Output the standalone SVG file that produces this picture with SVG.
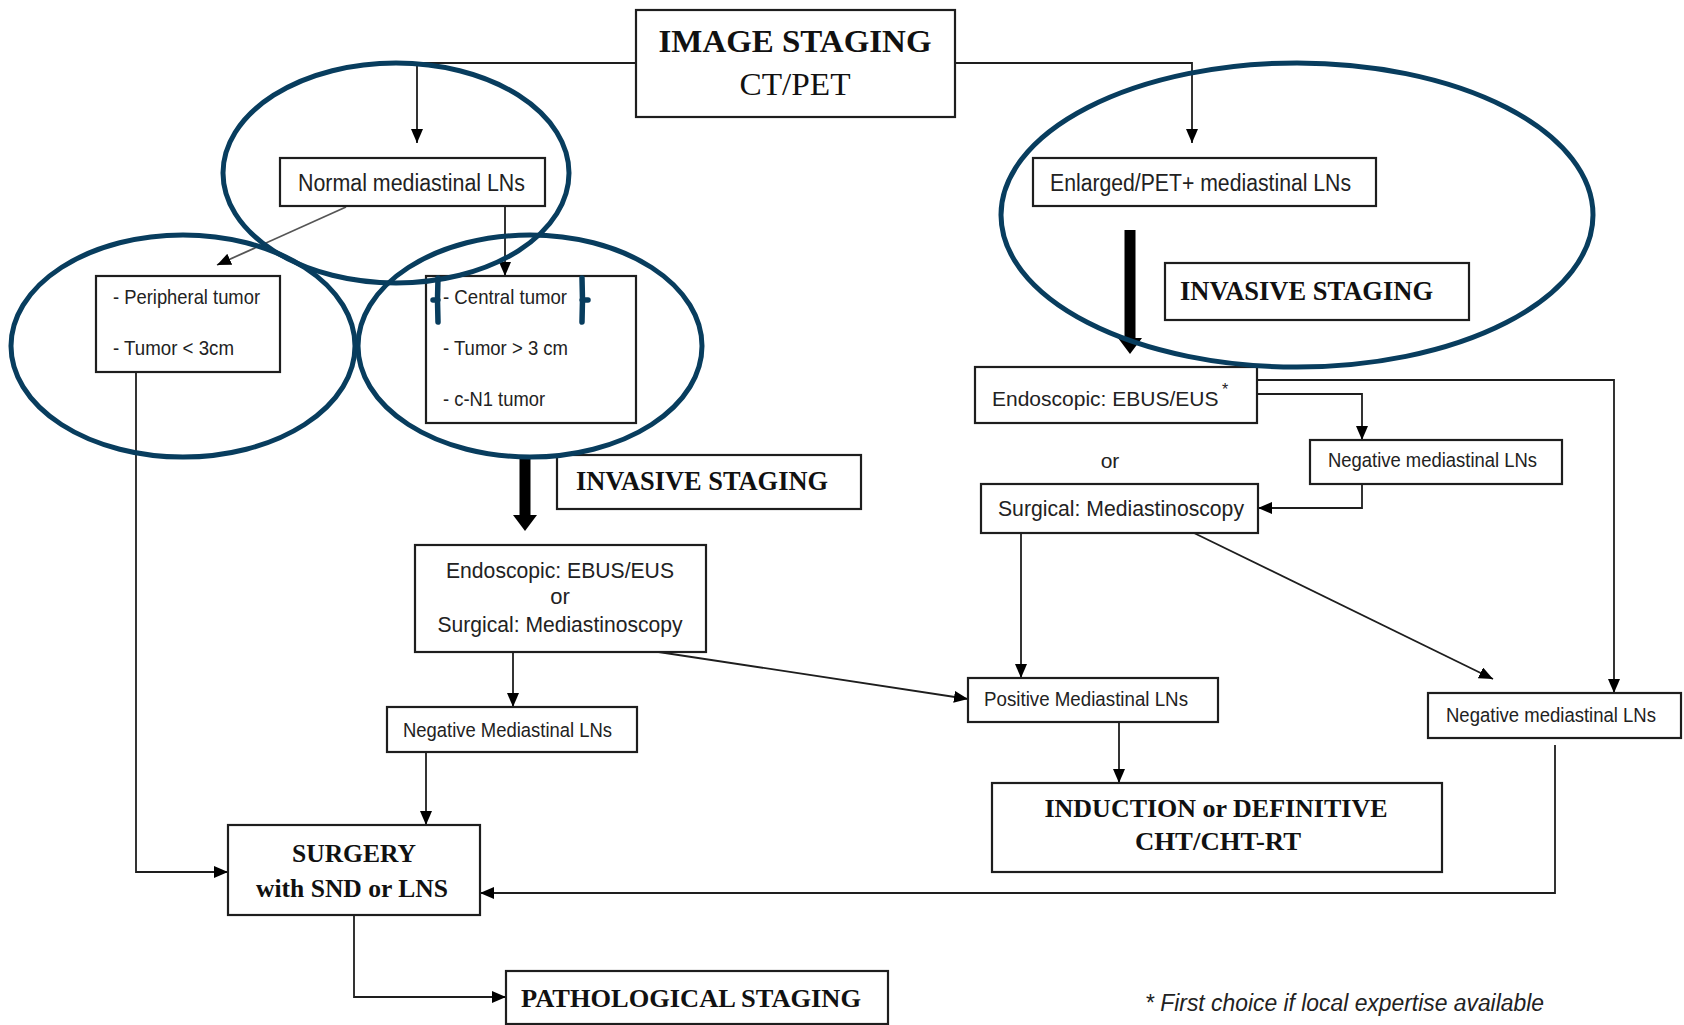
<svg xmlns="http://www.w3.org/2000/svg" width="1684" height="1025" viewBox="0 0 1684 1025">
<style>
.box{fill:#fff;stroke:#1e1e1e;stroke-width:2.2}
.s{font-family:"Liberation Sans",Arial,sans-serif;fill:#222}
.b{font-family:"Liberation Serif","Times New Roman",serif;font-weight:bold;fill:#111}
.r{font-family:"Liberation Serif","Times New Roman",serif;fill:#111}
.ln{fill:none;stroke:#1e1e1e;stroke-width:1.8}
.thick{fill:none;stroke:#000;stroke-width:11}
.ring{fill:none;stroke:#083d5e;stroke-width:5}
.mark{fill:none;stroke:#083d5e;stroke-width:5.5;stroke-linecap:round}
</style>
<defs>
<marker id="ah" viewBox="0 0 14 12" refX="14" refY="6" markerWidth="14" markerHeight="12" markerUnits="userSpaceOnUse" orient="auto"><path d="M0,0 L14,6 L0,12 z" fill="#000"/></marker>
<marker id="aht" viewBox="0 0 16 24" refX="0" refY="12" markerWidth="16" markerHeight="24" markerUnits="userSpaceOnUse" orient="auto"><path d="M0,0 L16,12 L0,24 z" fill="#000"/></marker>
</defs>
<rect width="1684" height="1025" fill="#fff"/>

<g id="connectors">
<path class="ln" d="M636,63 H417 V143" marker-end="url(#ah)"/>
<path class="ln" d="M955,63 H1192 V143" marker-end="url(#ah)"/>
<path class="ln" d="M346,207 L217,265" marker-end="url(#ah)" style="stroke:#555"/>
<path class="ln" d="M505,206 V276" marker-end="url(#ah)"/>
<path class="thick" d="M525,459 V515" marker-end="url(#aht)"/>
<path class="ln" d="M136,372 V872 H228" marker-end="url(#ah)"/>
<path class="ln" d="M513,652 V707" marker-end="url(#ah)"/>
<path class="ln" d="M652,651 L968,699" marker-end="url(#ah)"/>
<path class="ln" d="M426,752 V825" marker-end="url(#ah)"/>
<path class="ln" d="M354,915 V997 H506" marker-end="url(#ah)"/>
<path class="thick" d="M1130,230 V338" marker-end="url(#aht)"/>
<path class="ln" d="M1257,380 H1614 V693" marker-end="url(#ah)"/>
<path class="ln" d="M1257,394 H1362 V440" marker-end="url(#ah)"/>
<path class="ln" d="M1362,484 V508 H1258" marker-end="url(#ah)"/>
<path class="ln" d="M1021,533 V678" marker-end="url(#ah)"/>
<path class="ln" d="M1194,533 L1493,679" marker-end="url(#ah)"/>
<path class="ln" d="M1119,722 V783" marker-end="url(#ah)"/>
<path class="ln" d="M1555,745 V893 H480" marker-end="url(#ah)"/>
</g>

<g id="image-staging">
<rect class="box" x="636" y="10" width="319" height="107"/>
<text class="b" x="795" y="52" font-size="32" text-anchor="middle" textLength="273" lengthAdjust="spacingAndGlyphs">IMAGE STAGING</text>
<text class="r" x="795" y="95" font-size="32" text-anchor="middle" textLength="111" lengthAdjust="spacingAndGlyphs">CT/PET</text>
</g>

<g id="normal-lns">
<rect class="box" x="280" y="158" width="265" height="48"/>
<text class="s" x="298" y="191" font-size="23.5" textLength="227" lengthAdjust="spacingAndGlyphs">Normal mediastinal LNs</text>
</g>

<g id="peripheral">
<rect class="box" x="96" y="276" width="184" height="96"/>
<text class="s" x="113" y="304" font-size="21" textLength="147" lengthAdjust="spacingAndGlyphs">- Peripheral tumor</text>
<text class="s" x="113" y="355" font-size="21" textLength="121" lengthAdjust="spacingAndGlyphs">- Tumor &lt; 3cm</text>
</g>

<g id="central">
<rect class="box" x="426" y="276" width="210" height="147"/>
<text class="s" x="443" y="304" font-size="21" textLength="124" lengthAdjust="spacingAndGlyphs">- Central tumor</text>
<text class="s" x="443" y="355" font-size="21" textLength="125" lengthAdjust="spacingAndGlyphs">- Tumor &gt; 3 cm</text>
<text class="s" x="443" y="406" font-size="21" textLength="102" lengthAdjust="spacingAndGlyphs">- c-N1 tumor</text>
</g>

<g id="invasive-left">
<rect class="box" x="557" y="455" width="304" height="54"/>
<text class="b" x="576" y="490" font-size="27" textLength="252" lengthAdjust="spacingAndGlyphs">INVASIVE STAGING</text>
</g>

<g id="endoscopic-mid">
<rect class="box" x="415" y="545" width="291" height="107"/>
<text class="s" x="560" y="578" font-size="22.5" text-anchor="middle" textLength="228" lengthAdjust="spacingAndGlyphs">Endoscopic: EBUS/EUS</text>
<text class="s" x="560" y="604" font-size="22" text-anchor="middle">or</text>
<text class="s" x="560" y="632" font-size="22.5" text-anchor="middle" textLength="245" lengthAdjust="spacingAndGlyphs">Surgical: Mediastinoscopy</text>
</g>

<g id="negative-left">
<rect class="box" x="387" y="707" width="250" height="45"/>
<text class="s" x="403" y="737" font-size="20.5" textLength="209" lengthAdjust="spacingAndGlyphs">Negative Mediastinal LNs</text>
</g>

<g id="surgery">
<rect class="box" x="228" y="825" width="252" height="90"/>
<text class="b" x="354" y="862" font-size="26" text-anchor="middle" textLength="124" lengthAdjust="spacingAndGlyphs">SURGERY</text>
<text class="b" x="352" y="897" font-size="26" text-anchor="middle" textLength="192" lengthAdjust="spacingAndGlyphs">with SND or LNS</text>
</g>

<g id="pathological">
<rect class="box" x="506" y="971" width="382" height="53"/>
<text class="b" x="521" y="1007" font-size="26" textLength="340" lengthAdjust="spacingAndGlyphs">PATHOLOGICAL STAGING</text>
</g>

<g id="enlarged-lns">
<rect class="box" x="1033" y="158" width="343" height="48"/>
<text class="s" x="1050" y="191" font-size="23.5" textLength="301" lengthAdjust="spacingAndGlyphs">Enlarged/PET+ mediastinal LNs</text>
</g>

<g id="invasive-right">
<rect class="box" x="1165" y="263" width="304" height="57"/>
<text class="b" x="1180" y="300" font-size="27" textLength="253" lengthAdjust="spacingAndGlyphs">INVASIVE STAGING</text>
</g>

<g id="endoscopic-right">
<rect class="box" x="975" y="367" width="282" height="56"/>
<text class="s" x="992" y="406" font-size="21">Endoscopic: EBUS/EUS</text>
<text class="s" x="1222" y="395" font-size="16">*</text>
</g>

<g id="or-label">
<text class="s" x="1110" y="468" font-size="21" text-anchor="middle">or</text>
</g>

<g id="negative-mid">
<rect class="box" x="1310" y="440" width="252" height="44"/>
<text class="s" x="1328" y="467" font-size="20.5" textLength="209" lengthAdjust="spacingAndGlyphs">Negative mediastinal LNs</text>
</g>

<g id="surgical-right">
<rect class="box" x="981" y="484" width="277" height="49"/>
<text class="s" x="998" y="516" font-size="22.5" textLength="246" lengthAdjust="spacingAndGlyphs">Surgical: Mediastinoscopy</text>
</g>

<g id="positive">
<rect class="box" x="968" y="678" width="250" height="44"/>
<text class="s" x="984" y="706" font-size="20.5" textLength="204" lengthAdjust="spacingAndGlyphs">Positive Mediastinal  LNs</text>
</g>

<g id="induction">
<rect class="box" x="992" y="783" width="450" height="89"/>
<text class="b" x="1216" y="817" font-size="26" text-anchor="middle" textLength="343" lengthAdjust="spacingAndGlyphs">INDUCTION or DEFINITIVE</text>
<text class="b" x="1218" y="850" font-size="26" text-anchor="middle" textLength="166" lengthAdjust="spacingAndGlyphs">CHT/CHT-RT</text>
</g>

<g id="negative-right">
<rect class="box" x="1428" y="693" width="253" height="45"/>
<text class="s" x="1446" y="722" font-size="20.5" textLength="210" lengthAdjust="spacingAndGlyphs">Negative mediastinal LNs</text>
</g>

<g id="footnote">
<text class="s" x="1145" y="1011" font-size="23" font-style="italic" textLength="399" lengthAdjust="spacingAndGlyphs">* First choice if local expertise available</text>
</g>

<g id="highlights">
<ellipse class="ring" cx="396" cy="173" rx="173" ry="110"/>
<ellipse class="ring" cx="183" cy="346" rx="172" ry="111"/>
<ellipse class="ring" cx="530" cy="346" rx="172" ry="111"/>
<ellipse class="ring" cx="1297" cy="215" rx="296" ry="152"/>
<path class="mark" d="M438,278 Q437,300 438,322 M433,300 H438"/>
<path class="mark" d="M582,278 Q583,300 582,322 M582,300 H588"/>
</g>
</svg>
